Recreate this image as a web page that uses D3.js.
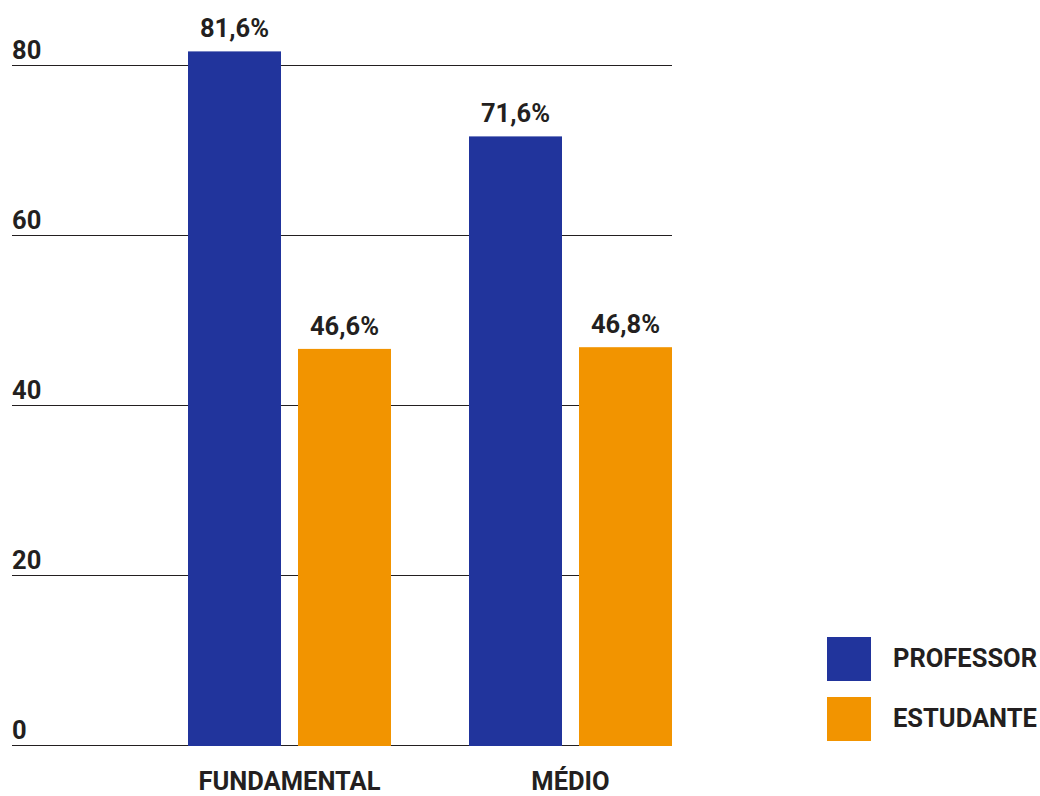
<!DOCTYPE html>
<html><head><meta charset="utf-8">
<script src="https://cdn.jsdelivr.net/npm/d3@7"></script>
<style>body{margin:0;background:#fff;} text{font-family:Roboto,"Noto Sans",sans-serif;font-weight:700;fill:#231f20;}</style>
</head><body><svg id="c" width="1040" height="796"></svg>
<script>
const categories = ["FUNDAMENTAL", "MÉDIO"];
const seriesNames = ["PROFESSOR", "ESTUDANTE"];
const professor = [81.6, 71.6];
const estudante = [46.6, 46.8];
const valueLabels = [["81,6%", "71,6%"], ["46,6%", "46,8%"]];
const yTicks = [0, 20, 40, 60, 80];
const colors = ["#21349c", "#f29400"];

const svg = d3.select("#c");
const FS = 25.5;
const y = d3.scaleLinear().domain([0, 80]).range([745, 65]);
const x0 = d3.scaleBand().domain(categories).range([188, 672]).paddingInner(78 / 281).paddingOuter(0);
const x1 = d3.scaleBand().domain(seriesNames).range([0, x0.bandwidth()]).paddingInner(17 / 110).paddingOuter(0);

const gl = svg.append("g");
yTicks.forEach(t => {
  gl.append("line").attr("x1", 12).attr("x2", 672).attr("y1", y(t) + 0.5).attr("y2", y(t) + 0.5)
    .attr("stroke", "#231f20").attr("stroke-width", 1);
  gl.append("text").attr("x", 12).attr("y", y(t) - 6).attr("font-size", FS).text(t);
});

const series = [professor, estudante];
series.forEach((vals, si) => {
  categories.forEach((c, ci) => {
    const bx = x0(c) + x1(seriesNames[si]);
    svg.append("rect").attr("x", bx).attr("y", y(vals[ci])).attr("width", x1.bandwidth())
      .attr("height", y(0) - y(vals[ci]) + 1).attr("fill", colors[si]);
    svg.append("text").attr("x", bx + x1.bandwidth() / 2).attr("y", y(vals[ci]) - 14)
      .attr("text-anchor", "middle").attr("font-size", FS).text(valueLabels[si][ci]);
  });
});

categories.forEach(c => {
  svg.append("text").attr("x", x0(c) + x0.bandwidth() / 2).attr("y", 790)
    .attr("text-anchor", "middle").attr("font-size", FS).text(c);
});

seriesNames.forEach((s, i) => {
  svg.append("rect").attr("x", 827).attr("y", 637 + i * 60).attr("width", 44).attr("height", 44).attr("fill", colors[i]);
  svg.append("text").attr("x", 893).attr("y", 667 + i * 60).attr("font-size", FS).text(s);
});
</script></body></html>
